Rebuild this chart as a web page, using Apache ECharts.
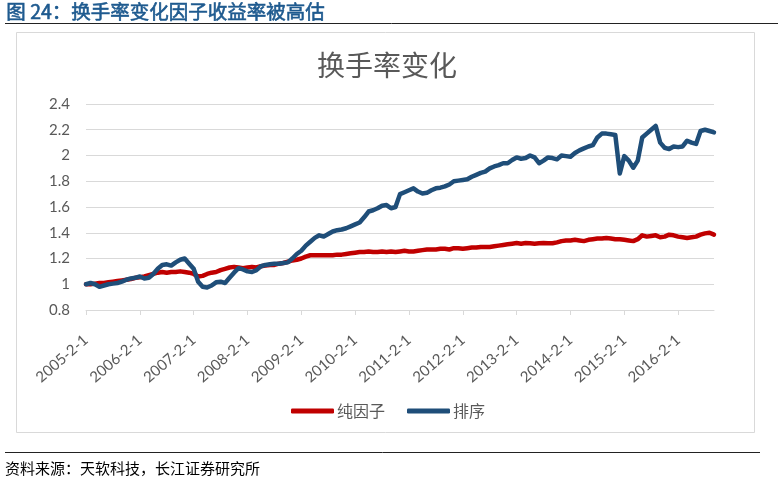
<!DOCTYPE html>
<html>
<head>
<meta charset="utf-8">
<script src="https://cdn.jsdelivr.net/npm/echarts@6/dist/echarts.min.js"></script>
<style>html,body{margin:0;padding:0;background:#fff;}#c{width:778px;height:486px;}</style>
</head>
<body>
<div id="c"></div>
<script>
// Monthly categories 2005-2 .. 2016-10
const startYear = 2005, startMonth = 2, monthCount = 141;
const categories = [];
for (let k = 0; k < monthCount; k++) {
  const m = startMonth - 1 + k;
  categories.push((startYear + Math.floor(m / 12)) + '-' + (m % 12 + 1) + '-1');
}
const pureFactor = [
  1.00,1.00,1.005,1.01,1.01,1.015,1.02,1.025,1.03,1.035,1.04,1.05,
  1.055,1.06,1.07,1.08,1.09,1.095,1.09,1.095,1.095,1.10,1.095,1.09,
  1.08,1.06,1.065,1.08,1.09,1.095,1.11,1.12,1.13,1.135,1.13,1.125,
  1.13,1.135,1.13,1.14,1.145,1.15,1.15,1.16,1.165,1.175,1.185,1.19,
  1.20,1.215,1.225,1.225,1.225,1.225,1.225,1.225,1.23,1.23,1.235,1.24,
  1.245,1.25,1.25,1.255,1.25,1.25,1.255,1.25,1.255,1.25,1.255,1.26,
  1.255,1.255,1.26,1.265,1.27,1.27,1.27,1.275,1.275,1.27,1.28,1.28,
  1.275,1.28,1.285,1.285,1.29,1.29,1.29,1.295,1.30,1.305,1.31,1.315,
  1.32,1.315,1.32,1.318,1.315,1.318,1.32,1.318,1.318,1.325,1.335,1.34,
  1.34,1.345,1.34,1.335,1.345,1.35,1.355,1.355,1.36,1.355,1.35,1.35,
  1.345,1.34,1.335,1.35,1.38,1.37,1.375,1.38,1.365,1.37,1.385,1.38,
  1.37,1.365,1.36,1.365,1.37,1.385,1.395,1.40,1.385
];
const ranking = [
  1.00,1.01,1.00,0.98,0.99,1.00,1.005,1.01,1.02,1.035,1.045,1.05,
  1.06,1.045,1.05,1.08,1.12,1.15,1.155,1.145,1.17,1.19,1.20,1.16,
  1.12,1.02,0.98,0.975,0.99,1.015,1.02,1.01,1.05,1.09,1.125,1.115,
  1.10,1.095,1.11,1.14,1.15,1.155,1.16,1.16,1.165,1.17,1.20,1.235,
  1.26,1.30,1.33,1.36,1.38,1.37,1.39,1.41,1.42,1.425,1.435,1.45,
  1.465,1.48,1.52,1.565,1.575,1.59,1.61,1.615,1.59,1.60,1.70,1.715,
  1.73,1.745,1.72,1.705,1.71,1.73,1.745,1.75,1.76,1.775,1.80,1.805,
  1.81,1.815,1.835,1.85,1.865,1.875,1.90,1.915,1.925,1.94,1.94,1.965,
  1.985,1.975,1.98,2.00,1.985,1.94,1.96,1.985,1.98,1.97,2.00,1.995,
  1.99,2.02,2.04,2.055,2.07,2.08,2.14,2.17,2.17,2.165,2.16,1.86,
  1.995,1.96,1.905,1.96,2.14,2.17,2.20,2.23,2.10,2.06,2.05,2.07,
  2.065,2.07,2.115,2.10,2.09,2.19,2.20,2.19,2.18
];
const seriesNames = ['纯因子', '排序'];
const yTicks = { min: 0.8, max: 2.4, interval: 0.2 };

const chart = echarts.init(document.getElementById('c'), null, { renderer: 'canvas' });
const grey = '#595959';
chart.setOption({
  animation: false,
  backgroundColor: '#fff',
  title: {
    text: '换手率变化', left: 312, top: 46,
    textStyle: { fontFamily: 'Noto Sans CJK SC', fontSize: 28, fontWeight: 'normal', color: grey }
  },
  legend: {
    left: 286, top: 398, itemWidth: 43, itemHeight: 5, itemGap: 22, icon: 'roundRect',
    textStyle: { fontFamily: 'Noto Sans CJK SC', fontSize: 16, color: grey, padding: [0,0,0,-2] },
    data: seriesNames
  },
  grid: { left: 86, right: 64, top: 104, bottom: 176, containLabel: false },
  xAxis: {
    type: 'category', data: categories, boundaryGap: false,
    axisLine: { lineStyle: { color: '#D9D9D9', width: 1 } },
    axisTick: { interval: 11, length: 5, lineStyle: { color: '#D9D9D9' } },
    axisLabel: { interval: 11, rotate: 41, margin: 28, fontFamily: 'Lato', fontSize: 15, color: grey }
  },
  yAxis: {
    type: 'value', min: yTicks.min, max: yTicks.max, interval: yTicks.interval,
    axisLine: { show: false }, axisTick: { show: false },
    axisLabel: { margin: 16, fontFamily: 'Lato', fontSize: 15, color: grey,
      formatter: v => String(+v.toFixed(1)) },
    splitLine: { lineStyle: { color: '#D9D9D9', width: 1 } }
  },
  series: [
    { name: seriesNames[0], type: 'line', data: pureFactor, showSymbol: false, symbol: 'none',
      color: '#C00000', lineStyle: { width: 4.5, color: '#C00000', join: 'round', cap: 'round' }, z: 2 },
    { name: seriesNames[1], type: 'line', data: ranking, showSymbol: false, symbol: 'none',
      color: '#1F4E79', lineStyle: { width: 4.5, color: '#1F4E79', join: 'round', cap: 'round' }, z: 3 }
  ],
  graphic: [
    { type: 'text', left: 6, top: 2, style: { text: '图 24：换手率变化因子收益率被高估',
      font: '19.5px "Noto Sans CJK SC"', fill: '#1E5A8F', stroke: '#1E5A8F', lineWidth: 0.6 } },
    { type: 'line', shape: { x1: 5, y1: 23.5, x2: 778, y2: 23.5 }, style: { stroke: '#222', lineWidth: 1 } },
    { type: 'rect', shape: { x: 16.5, y: 32.5, width: 738, height: 400 }, style: { fill: 'none', stroke: '#D9D9D9', lineWidth: 1 }, z: -1 },
    { type: 'line', shape: { x1: 5, y1: 452.5, x2: 760, y2: 452.5 }, style: { stroke: '#222', lineWidth: 1 } },
    { type: 'text', left: 5, top: 461, style: { text: '资料来源：天软科技，长江证券研究所',
      font: '15px "Noto Sans CJK SC"', fill: '#000' } }
  ]
});
</script>
</body>
</html>
